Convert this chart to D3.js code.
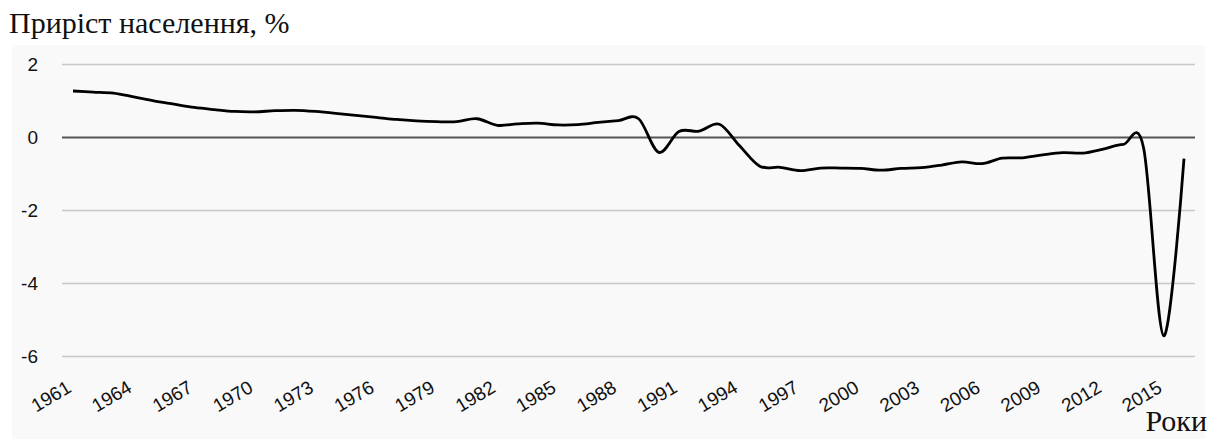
<!DOCTYPE html>
<html>
<head>
<meta charset="utf-8">
<script src="https://cdn.jsdelivr.net/npm/d3@7"></script>
<style>
  html, body { margin: 0; padding: 0; background: #ffffff; }
  svg { display: block; }
  .title, .xtitle { font-family: "Liberation Serif", "Times New Roman", serif; fill: #111; }
  .tick text { font-family: "Liberation Sans", Arial, sans-serif; fill: #111; }
</style>
</head>
<body>
<svg id="chart" width="1216" height="439"></svg>
<script>
// Population growth, % per year
const years = d3.range(1961, 2017);
const growth = [
  1.26, 1.23, 1.20, 1.10, 0.99, 0.90, 0.81, 0.75, 0.70, 0.69,
  0.72, 0.73, 0.70, 0.65, 0.59, 0.54, 0.48, 0.44, 0.42, 0.42,
  0.50, 0.32, 0.36, 0.38, 0.33, 0.34, 0.40, 0.45, 0.50, -0.42,
  0.15, 0.16, 0.35, -0.24, -0.80, -0.83, -0.92, -0.85, -0.85, -0.86,
  -0.91, -0.86, -0.84, -0.77, -0.68, -0.73, -0.58, -0.57, -0.49, -0.43,
  -0.44, -0.33, -0.20, -0.30, -5.45, -0.59
];
const yTicks = [2, 0, -2, -4, -6];
const xTickYears = years.filter((y, i) => i % 3 === 0);
const titleText = "Приріст населення, %";
const xTitleText = "Роки";

const svg = d3.select("#chart");

// chart area background
svg.append("rect")
  .attr("x", 12).attr("y", 45)
  .attr("width", 1193).attr("height", 394)
  .attr("fill", "#f9f9f9");

const gridLeft = 62, gridRight = 1195;
const x = d3.scalePoint().domain(years).range([73, 1184]);
const y = d3.scaleLinear().domain([-6, 2]).range([356, 64]);

// horizontal gridlines + value labels (plain hyphen for negatives)
const yAxis = svg.append("g")
  .attr("transform", `translate(${gridLeft},0)`)
  .call(d3.axisLeft(y).tickValues(yTicks).tickFormat(d => String(d))
    .tickSize(-(gridRight - gridLeft)).tickPadding(24));
yAxis.select(".domain").remove();
yAxis.selectAll(".tick line")
  .attr("stroke", d => d === 0 ? "#555" : "#c8c8c8")
  .attr("stroke-width", d => d === 0 ? 2.2 : 1.6);
yAxis.selectAll(".tick text").attr("font-size", 19);

// year labels, rotated
const xAxis = svg.append("g")
  .attr("transform", `translate(-1,391)`)
  .call(d3.axisBottom(x).tickValues(xTickYears).tickSize(0).tickPadding(0));
xAxis.select(".domain").remove();
xAxis.selectAll(".tick text")
  .attr("font-size", 19)
  .attr("text-anchor", "end")
  .attr("dy", 0)
  .attr("y", 0)
  .attr("x", 0)
  .attr("transform", "rotate(-31)");

// growth line
const line = d3.line()
  .x((d, i) => x(years[i]))
  .y(d => y(d))
  .curve(d3.curveCardinal.tension(0));
svg.append("path")
  .datum(growth)
  .attr("fill", "none")
  .attr("stroke", "#000")
  .attr("stroke-width", 2.8)
  .attr("stroke-linejoin", "round")
  .attr("d", line);

// titles
svg.append("text").attr("class", "title")
  .attr("x", 9).attr("y", 33)
  .attr("font-size", 30)
  .text(titleText);
svg.append("text").attr("class", "xtitle")
  .attr("x", 1207).attr("y", 431)
  .attr("text-anchor", "end")
  .attr("font-size", 30)
  .text(xTitleText);
</script>
</body>
</html>
